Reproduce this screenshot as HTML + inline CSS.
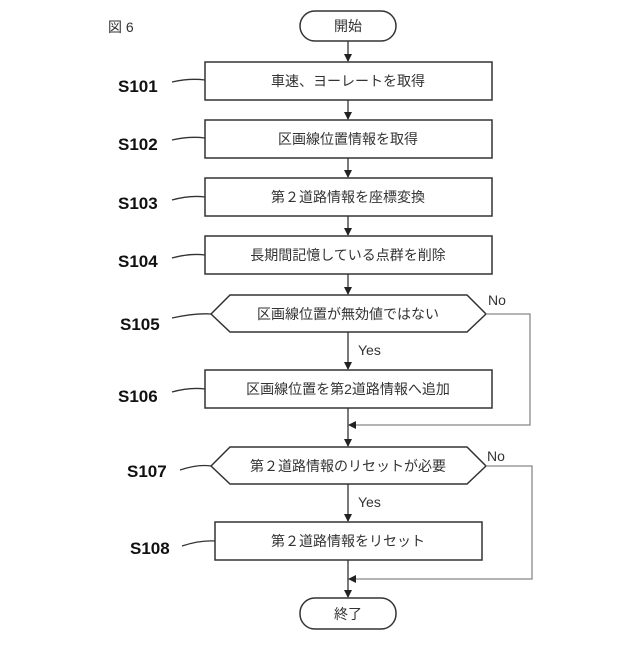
<!DOCTYPE html>
<html><head><meta charset="utf-8"><style>
html,body{margin:0;padding:0;background:#fff}
svg text{font-family:"Liberation Sans","Noto Sans CJK JP",sans-serif}
</style></head><body>
<svg width="640" height="640" viewBox="0 0 640 640" xmlns="http://www.w3.org/2000/svg">
<defs><marker id="a" markerWidth="8" markerHeight="8" refX="7" refY="4" orient="auto" markerUnits="userSpaceOnUse"><path d="M0,0 L8,4 L0,8 z" fill="#222"/></marker></defs>
<g fill="none" stroke="#333" stroke-width="1.5">
<rect x="300" y="11" width="96" height="30" rx="15"/>
<rect x="205" y="62" width="287" height="38"/>
<rect x="205" y="120" width="287" height="38"/>
<rect x="205" y="178" width="287" height="38"/>
<rect x="205" y="236" width="287" height="38"/>
<path d="M211,314 L230,295 L467,295 L486,314 L467,332 L230,332 Z"/>
<rect x="205" y="370" width="287" height="38"/>
<path d="M211,466 L230,447 L467,447 L486,466 L467,484 L230,484 Z"/>
<rect x="215" y="522" width="267" height="38"/>
<rect x="300" y="598" width="96" height="31" rx="15"/>
</g>
<g stroke="#333" stroke-width="1.3" fill="none">
<line x1="348" y1="41" x2="348" y2="61" marker-end="url(#a)"/>
<line x1="348" y1="100" x2="348" y2="119" marker-end="url(#a)"/>
<line x1="348" y1="158" x2="348" y2="177" marker-end="url(#a)"/>
<line x1="348" y1="216" x2="348" y2="235" marker-end="url(#a)"/>
<line x1="348" y1="274" x2="348" y2="294" marker-end="url(#a)"/>
<line x1="348" y1="332" x2="348" y2="369" marker-end="url(#a)"/>
<line x1="348" y1="408" x2="348" y2="446" marker-end="url(#a)"/>
<line x1="348" y1="484" x2="348" y2="521" marker-end="url(#a)"/>
<line x1="348" y1="560" x2="348" y2="597" marker-end="url(#a)"/>
<path d="M486,314 L530,314 L530,425 L349,425" stroke="#888" marker-end="url(#a)"/>
<path d="M486,466 L532,466 L532,579 L349,579" stroke="#888" marker-end="url(#a)"/>
<path d="M172,82 Q190,78 205,80"/>
<path d="M172,140 Q190,136 205,138"/>
<path d="M172,200 Q190,195 205,197"/>
<path d="M172,258 Q190,253 205,255"/>
<path d="M172,318 Q195,313 211,314"/>
<path d="M172,392 Q190,387 205,389"/>
<path d="M180,470 Q198,464 211,466"/>
<path d="M182,546 Q200,540 215,541"/>
</g>
<g font-size="14" fill="#333" text-anchor="middle">
<text x="348" y="31">開始</text>
<text x="348" y="86">車速、ヨーレートを取得</text>
<text x="348" y="144">区画線位置情報を取得</text>
<text x="348" y="202">第２道路情報を座標変換</text>
<text x="348" y="260">長期間記憶している点群を削除</text>
<text x="348" y="319">区画線位置が無効値ではない</text>
<text x="348" y="394">区画線位置を第2道路情報へ追加</text>
<text x="348" y="471">第２道路情報のリセットが必要</text>
<text x="348" y="546">第２道路情報をリセット</text>
<text x="348" y="619">終了</text>
</g>
<g font-size="14" fill="#333">
<text x="358" y="355">Yes</text>
<text x="358" y="507">Yes</text>
<text x="488" y="305">No</text>
<text x="487" y="461">No</text>
<text x="108" y="32">図 6</text>
</g>
<g font-size="17" font-weight="bold" fill="#111">
<text x="118" y="92">S101</text>
<text x="118" y="150">S102</text>
<text x="118" y="209">S103</text>
<text x="118" y="267">S104</text>
<text x="120" y="330">S105</text>
<text x="118" y="402">S106</text>
<text x="127" y="477">S107</text>
<text x="130" y="554">S108</text>
</g>
</svg>
</body></html>
